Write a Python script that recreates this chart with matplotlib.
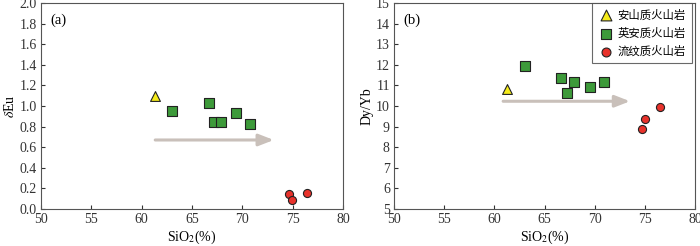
import matplotlib.pyplot as plt

plt.rcParams['font.family'] = ['Liberation Serif', 'Noto Sans CJK SC']
plt.rcParams['font.size'] = 10
plt.rcParams['mathtext.fontset'] = 'stix'

# data
an_sio2 = [61.3]
an_eu = [1.10]
an_dyyb = [10.81]

yin_sio2 = [63.05, 66.65, 67.15, 67.85, 69.4, 70.8]
yin_eu = [0.95, 1.03, 0.84, 0.84, 0.93, 0.83]
yin_sio2_b = [63.1, 66.68, 67.24, 67.94, 69.5, 70.9]
yin_dyyb = [11.94, 11.37, 10.65, 11.18, 10.9, 11.18]

liu_sio2 = [74.6, 74.95, 76.4]
liu_eu = [0.15, 0.087, 0.16]
liu_sio2_b = [74.7, 75.05, 76.55]
liu_dyyb = [8.89, 9.39, 9.97]

labels = ['安山质火山岩', '英安质火山岩', '流纹质火山岩']

fig = plt.figure(figsize=(7, 2.46), dpi=100)
ax1 = fig.add_axes([41/700, 1-209/246, 302/700, 206/246])
ax2 = fig.add_axes([394/700, 1-209/246, 301/700, 206/246])

def marcas(ax, xa, ya, xy, yy, xl, yl):
    ax.scatter(xa, ya, marker='^', s=50, c='#f5eb1a', edgecolors='#222222', linewidths=0.8, zorder=3, label=labels[0])
    ax.scatter(xy, yy, marker='s', s=48, c='#3d9a3a', edgecolors='#222222', linewidths=0.8, zorder=3, label=labels[1])
    ax.scatter(xl, yl, marker='o', s=34, c='#e8322b', edgecolors='#222222', linewidths=0.8, zorder=3, label=labels[2])

def estilo(ax):
    ax.set_xlim(50, 80)
    ax.set_xticks([50, 55, 60, 65, 70, 75, 80])
    ax.tick_params(direction='in', length=3, width=0.8, colors='#333333', labelsize=10, pad=3)
    for s in ax.spines.values():
        s.set_color('#555555')
        s.set_linewidth(0.8)
    ax.set_xlabel('SiO$_2$(%)', fontsize=10, labelpad=2)

marcas(ax1, an_sio2, an_eu, yin_sio2, yin_eu, liu_sio2, liu_eu)
ax1.annotate('', xy=(73.4, 0.67), xytext=(61.07, 0.67),
             arrowprops=dict(arrowstyle='-|>,head_length=0.9,head_width=0.35', color='#c9c0ba', lw=2.2))
estilo(ax1)
ax1.set_ylim(0, 2.0)
ax1.set_yticks([0.0, 0.2, 0.4, 0.6, 0.8, 1.0, 1.2, 1.4, 1.6, 1.8, 2.0])
ax1.set_yticklabels([f'{v:.1f}' for v in ax1.get_yticks()])
ax1.set_ylabel(r'$\delta$Eu', fontsize=10, labelpad=2)
ax1.text(0.03, 0.95, '(a)', transform=ax1.transAxes, fontsize=10.5, va='top')

marcas(ax2, an_sio2, an_dyyb, yin_sio2_b, yin_dyyb, liu_sio2_b, liu_dyyb)
ax2.annotate('', xy=(73.8, 10.23), xytext=(60.6, 10.23),
             arrowprops=dict(arrowstyle='-|>,head_length=0.9,head_width=0.35', color='#c9c0ba', lw=2.2))
estilo(ax2)
ax2.set_ylim(5, 15)
ax2.set_yticks(range(5, 16))
ax2.set_ylabel('Dy/Yb', fontsize=10, labelpad=2)
ax2.text(0.03, 0.95, '(b)', transform=ax2.transAxes, fontsize=10.5, va='top')
leg = ax2.legend(loc='upper right', bbox_to_anchor=(0.99, 1.0), fancybox=False, edgecolor='#444444',
                 handletextpad=0.4, borderpad=0.55, labelspacing=0.62, handlelength=1.3,
                 borderaxespad=0.0, markerscale=1.1,
                 prop={'family': ['Noto Sans CJK SC'], 'size': 8.2})
leg.get_frame().set_linewidth(0.8)

fig.savefig('out.png', dpi=100)
